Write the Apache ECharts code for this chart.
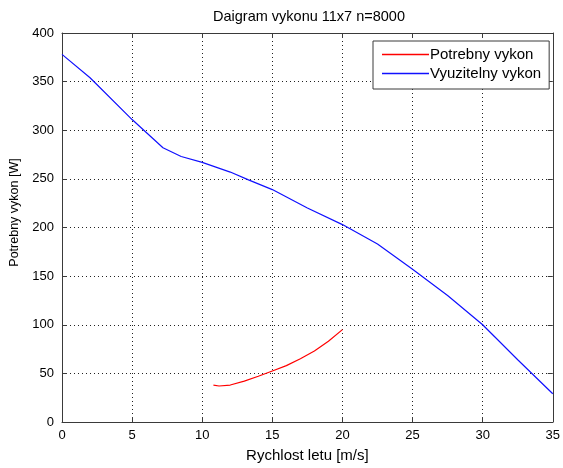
<!DOCTYPE html>
<html>
<head>
<meta charset="utf-8">
<script src="https://cdn.jsdelivr.net/npm/echarts@6/dist/echarts.min.js"></script>
<style>
html,body{margin:0;padding:0;background:#fff;}
#chart{width:563px;height:468px;}
</style>
</head>
<body>
<div id="chart"></div>
<script>
var titleText = 'Daigram vykonu 11x7 n=8000';
var xAxisName = 'Rychlost letu [m/s]';
var yAxisName = 'Potrebny vykon [W]';

var potrebnyName = 'Potrebny vykon';
var potrebnyX = [10.8, 11.2, 12, 13, 14, 15, 16, 17, 18, 19, 20];
var potrebnyY = [38, 37, 38, 42, 47, 52.5, 58, 65, 73, 83, 95];

var vyuzitelnyName = 'Vyuzitelny vykon';
var vyuzitelnyX = [0, 2, 5, 7.2, 8.5, 10, 12, 13.3, 15, 17.5, 20, 22.5, 25, 27.5, 30, 32.5, 35];
var vyuzitelnyY = [378, 354, 311, 282, 273, 267, 257, 249, 239, 220, 203, 183, 157, 130, 100, 64, 29];

var xTicks = [0, 35, 5];
var yTicks = [0, 400, 50];

var redColor = '#ff0000';
var blueColor = '#1010ff';

function pairs(xs, ys) {
  return xs.map(function (x, i) { return [x, ys[i]]; });
}

var font = 'Liberation Sans, Arial, sans-serif';
var chart = echarts.init(document.getElementById('chart'), null, {renderer: 'canvas'});

function xAx(pos, main) {
  return {
    type: 'value', position: pos, min: xTicks[0], max: xTicks[1], interval: xTicks[2],
    name: main ? xAxisName : '', nameLocation: 'middle', nameGap: 26,
    nameTextStyle: {color: '#000', fontSize: 15, fontFamily: font},
    axisLine: {show: true, onZero: false, lineStyle: {color: '#3a3a3a', width: 1}},
    axisTick: {show: true, inside: true, length: 5, lineStyle: {color: '#3a3a3a'}},
    axisLabel: {show: main, color: '#000', fontSize: 13, fontFamily: font, margin: 7},
    splitLine: {show: main, lineStyle: {color: '#222', type: [1, 3], width: 1}}
  };
}
function yAx(pos, main) {
  return {
    type: 'value', position: pos, min: yTicks[0], max: yTicks[1], interval: yTicks[2],
    name: main ? yAxisName : '', nameLocation: 'middle', nameGap: 35,
    nameTextStyle: {color: '#000', fontSize: 12.5, fontFamily: font, padding: [0, 0, 0, 30]},
    axisLine: {show: true, onZero: false, lineStyle: {color: '#3a3a3a', width: 1}},
    axisTick: {show: true, inside: true, length: 5, lineStyle: {color: '#3a3a3a'}},
    axisLabel: {show: main, color: '#000', fontSize: 13, fontFamily: font, margin: 8},
    splitLine: {show: main, lineStyle: {color: '#222', type: [1, 3], width: 1}}
  };
}

var iconPath = 'path://M0,0H47V1.4H0Z';

chart.setOption({
  animation: false,
  backgroundColor: '#fff',
  title: {
    text: titleText, left: 309, top: 9, textAlign: 'center', padding: 0,
    textStyle: {color: '#000', fontSize: 14.5, fontWeight: 'normal', fontFamily: font}
  },
  grid: {left: 62, right: 6, top: 33, bottom: 44, containLabel: false},
  xAxis: [xAx('bottom', true), xAx('top', false)],
  yAxis: [yAx('left', true), yAx('right', false)],
  legend: {
    orient: 'vertical', left: 373, top: 41,
    data: [
      {name: potrebnyName, icon: iconPath, itemStyle: {color: redColor, borderWidth: 0}},
      {name: vyuzitelnyName, icon: iconPath, itemStyle: {color: blueColor, borderWidth: 0}}
    ],
    itemWidth: 47, itemHeight: 1.4, itemGap: 4,
    padding: [6, 8, 8, 9],
    borderColor: '#3a3a3a', borderWidth: 1, backgroundColor: '#fff',
    textStyle: {color: '#000', fontSize: 15, lineHeight: 15, fontFamily: font, padding: [0, 0, 0, -4]}
  },
  series: [
    {
      name: potrebnyName, type: 'line', symbol: 'none', smooth: false,
      data: pairs(potrebnyX, potrebnyY),
      color: redColor,
      lineStyle: {color: redColor, width: 1.2}, itemStyle: {color: redColor}
    },
    {
      name: vyuzitelnyName, type: 'line', symbol: 'none', smooth: false,
      data: pairs(vyuzitelnyX, vyuzitelnyY),
      color: blueColor,
      lineStyle: {color: blueColor, width: 1.2}, itemStyle: {color: blueColor}
    }
  ]
});
</script>
</body>
</html>
